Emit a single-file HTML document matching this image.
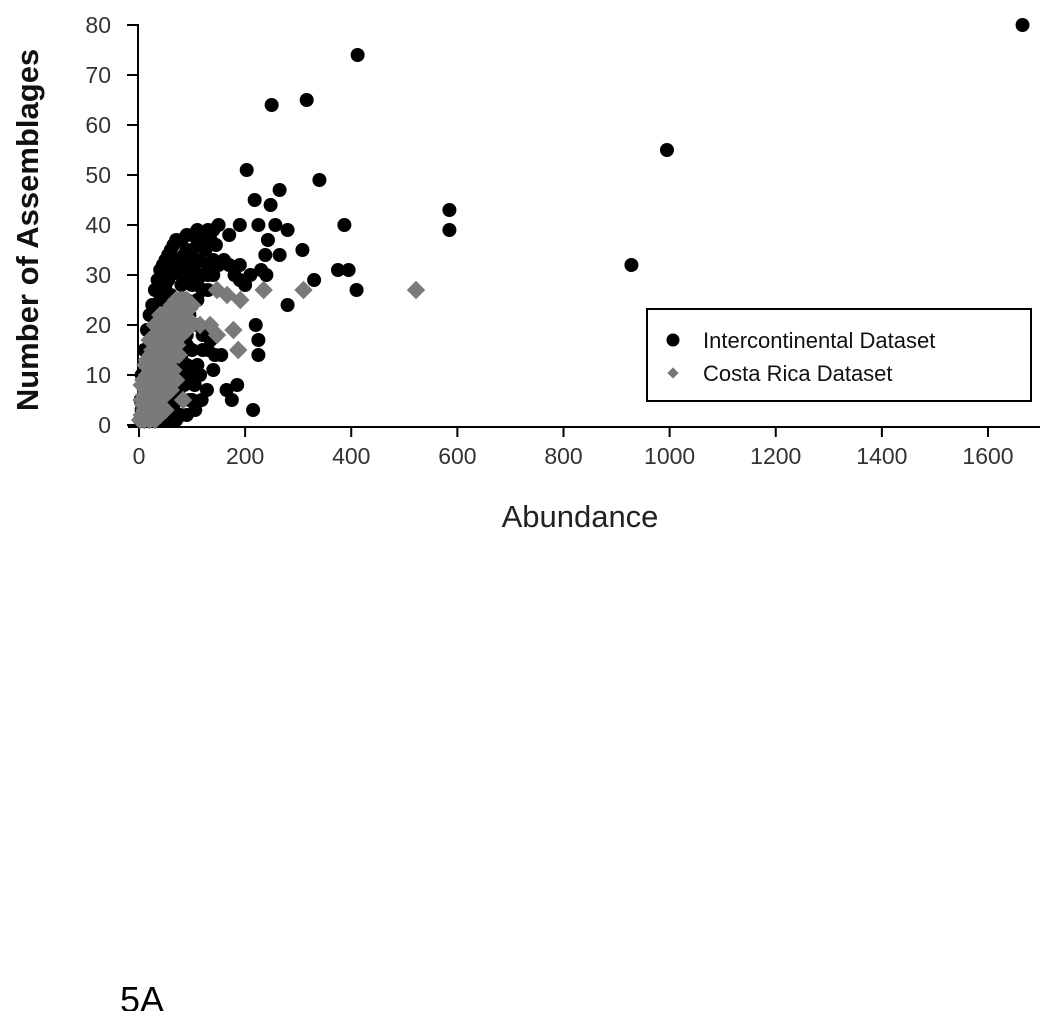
<!DOCTYPE html>
<html><head><meta charset="utf-8"><style>
html,body{margin:0;padding:0;background:#fff;}
svg{display:block;font-family:"Liberation Sans",sans-serif;}
</style></head><body>
<svg id="chart" width="1050" height="1011" viewBox="0 0 1050 1011">
<g id="axes"></g>
<g id="plot"></g>
<text x="580" y="527" font-size="31" text-anchor="middle" fill="#222">Abundance</text>
<text transform="translate(38,230) rotate(-90)" font-size="31" font-weight="bold" text-anchor="middle" fill="#111">Number of Assemblages</text>
<g>
<rect x="647" y="309" width="384" height="92" fill="#fff" stroke="#000" stroke-width="2"/>
<circle cx="673" cy="340" r="6.5" fill="#000"/>
<text x="703" y="348" font-size="22" fill="#111">Intercontinental Dataset</text>
<rect x="669" y="369" width="8" height="8" fill="#777" transform="rotate(45 673 373)"/>
<text x="703" y="381" font-size="22" fill="#111">Costa Rica Dataset</text>
</g>
<text x="120" y="1012" font-size="36" fill="#000">5A</text>
</svg>
<script>
const xTicks=[0,200,400,600,800,1000,1200,1400,1600];
const yTicks=[0,10,20,30,40,50,60,70,80];
const interAbund=[1665,412,316,250,995,203,340,265,218,248,585,928,585,387,410,280,330,308,375,395,280,257,243,238,265,225,190,170,150,130,240,230,210,220,225,225,215,185,175,165,155,143,140,135,128,118,106,90,80,70,60,190,
5,10,15,20,25,30,35,40,45,50,55,60,65,70,80,90,100,110,120,140,
10,20,30,40,50,60,70,80,90,100,110,120,130,140,150,160,170,180,190,200,
90,100,110,120,130,100,110,90,80,70,80,90,100,110,120,120,130,100,90,80,70,60,70,80,60,50,40,30,20,50,60,70,80,10,5,3,2,100,110,85,95,75,65,55,45,
15,25,35,45,55,65,75,85,95,105,115,125,135,145,20,30,40,50,60,70,80,90,100,110,120,130,140,60,35,45,55,65,75,85,95,105,115,100,90];
const interCount=[80,74,65,64,55,51,49,47,45,44,43,32,39,40,27,24,29,35,31,31,39,40,37,34,34,40,40,38,40,39,30,31,30,20,17,14,3,8,5,7,14,14,11,17,7,5,3,16,10,5,3,32,
10,15,19,22,24,27,29,31,32,33,34,35,36,37,37,38,38,39,38,39,
8,15,20,25,28,30,32,33,35,35,36,36,32,33,32,33,32,30,29,28,
25,24,25,27,27,28,30,30,28,22,20,18,20,20,18,15,15,15,12,14,12,8,8,5,5,3,2,1,1,1,1,1,2,2,3,5,1,10,12,22,22,17,15,10,6,
12,18,22,26,29,31,33,34,33,32,33,35,37,36,5,8,10,12,20,25,30,32,30,28,30,30,30,26,3,1,5,3,7,8,5,8,10,5,2];
const costaAbund=[2,5,10,15,20,25,30,35,5,10,15,20,25,30,40,45,8,15,25,35,45,55,65,70,60,50,15,25,35,45,55,65,75,20,30,40,50,60,70,80,90,40,55,65,75,85,95,70,80,90,100,30,10,40,50,60,
5,12,18,28,38,48,58,68,78,88,62,30,20,42,52,33,22,12,8,62,72,82,92,75,85,
83,115,147,166,191,235,310,178,147,187,134,522];
const costaCount=[1,2,1,2,1,2,1,3,5,6,5,7,5,6,5,8,9,10,10,10,12,10,11,9,7,6,13,15,14,16,15,16,14,17,18,19,20,18,19,18,19,22,23,22,22,22,21,25,25,25,24,20,3,2,3,13,
8,12,10,12,16,18,21,20,23,23,24,4,3,10,13,8,14,7,4,17,16,20,23,25,25,
5,20,27,26,25,27,27,19,18,15,20,27];
const X0=139,XS=(988-139)/1600,Y0=425,YS=5;
const xs=v=>X0+v*XS, ys=v=>Y0-v*YS;
const NS='http://www.w3.org/2000/svg';
const axes=document.getElementById('axes'),plot=document.getElementById('plot');
function mk(t,a,p){const e=document.createElementNS(NS,t);for(const k in a)e.setAttribute(k,a[k]);p.appendChild(e);return e;}
let l=mk('line',{x1:X0-1,y1:ys(80),x2:X0-1,y2:427,stroke:'#000','stroke-width':2},axes);


l=mk('line',{x1:128,y1:427,x2:1040,y2:427,stroke:'#000','stroke-width':2},axes);


yTicks.forEach(v=>{
 const t=mk('line',{x1:127,y1:ys(v),x2:X0,y2:ys(v),stroke:'#000','stroke-width':2},axes);
 
 
 const tx=mk('text',{x:111,y:ys(v)+8,'font-size':23,'text-anchor':'end',fill:'#333'},axes);
 tx.textContent=v;
 
 
});
xTicks.forEach(v=>{
 const t=mk('line',{x1:xs(v),y1:427,x2:xs(v),y2:437,stroke:'#000','stroke-width':2},axes);
 
 
 const tx=mk('text',{x:xs(v),y:464,'font-size':23,'text-anchor':'middle',fill:'#333'},axes);
 tx.textContent=v;
 
 
});
interAbund.forEach((a,i)=>{
 const c=mk('circle',{cx:xs(a),cy:ys(interCount[i]),r:7,fill:'#000'},plot);
 
 
});
costaAbund.forEach((a,i)=>{
 const cx=xs(a),cy=ys(costaCount[i]);
 const d=mk('rect',{x:cx-6.5,y:cy-6.5,width:13,height:13,fill:'#7a7a7a',transform:`rotate(45 ${cx} ${cy})`},plot);
 
 
});
</script>
</body></html>
